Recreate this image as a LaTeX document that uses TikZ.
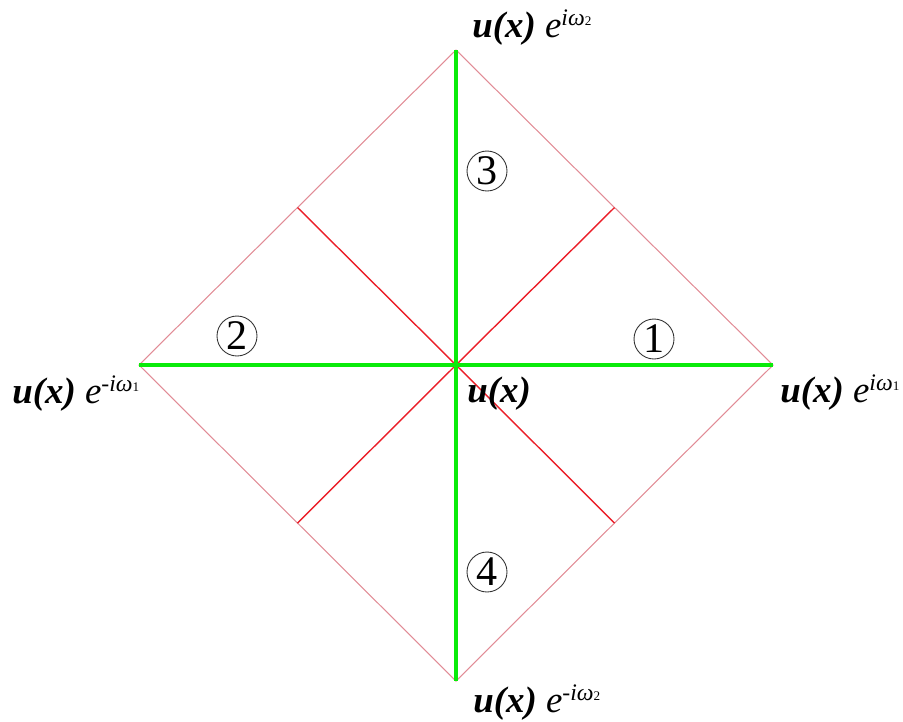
\documentclass[tikz,border=0pt]{standalone}
\usepackage{fontspec}
\setmainfont{Liberation Serif}
\usetikzlibrary{calc}
\definecolor{fieldgreen}{RGB}{10,235,10}
\definecolor{edgepink}{RGB}{225,140,150}
\definecolor{crossred}{RGB}{235,30,40}
\newcommand{\uofx}{\textbf{\textit{u(x)}}}
\newcommand{\expo}[2]{\textit{e}\raisebox{6.3pt}{\fontsize{13.5}{13.5}\selectfont\textit{#1ω}\fontsize{7.5}{7.5}\selectfont #2}}
\begin{document}
\begin{tikzpicture}[
    x=0.02cm, y=-0.02cm,
    font=\fontsize{21}{25}\selectfont,
    lbl/.style={anchor=base west, inner sep=0pt},
    num/.style={circle, draw=black!80, line width=0.5pt, minimum size=0.8cm, inner sep=0pt, font=\fontsize{24}{24}\selectfont},
    rim/.style={draw=edgepink, line width=0.6pt},
    cross/.style={draw=crossred, line width=0.8pt},
    axis/.style={draw=fieldgreen, line width=2.8pt}
  ]
  \useasboundingbox (0,0) rectangle (903,721);
  % corners of the square
  \coordinate (C) at (456,365);
  \coordinate (T) at (456,50);
  \coordinate (B) at (456,681);
  \coordinate (L) at (139,365);
  \coordinate (R) at (773,365);
  \coordinate (mTL) at ($(T)!0.5!(L)$);
  \coordinate (mTR) at ($(T)!0.5!(R)$);
  \coordinate (mBL) at ($(B)!0.5!(L)$);
  \coordinate (mBR) at ($(B)!0.5!(R)$);
  \draw[rim] (T) -- (R) -- (B) -- (L) -- cycle;
  \draw[cross] (mTL) -- (C);
  \draw[cross] (mTR) -- (C);
  \draw[cross] (mBL) -- (C);
  \draw[cross] (mBR) -- (C);
  \draw[axis] (L) -- (R);
  \draw[axis] (T) -- (B);
  % labels
  \node[lbl] (lblT) at (472,37) {\uofx\ \expo{i}{2}};
  \node[lbl] (lblL) at (12,403) {\uofx\ \expo{-i}{1}};
  \node[lbl] (lblC) at (467,402) {\uofx};
  \node[lbl] (lblR) at (780,402) {\uofx\ \expo{i}{1}};
  \node[lbl] (lblB) at (473,712) {\uofx\ \expo{-i}{2}};
  \node[num] (n1) at (654,339) {1};
  \node[num] (n2) at (237,336) {2};
  \node[num] (n3) at (487,171) {3};
  \node[num] (n4) at (487,572) {4};
\end{tikzpicture}
\end{document}
